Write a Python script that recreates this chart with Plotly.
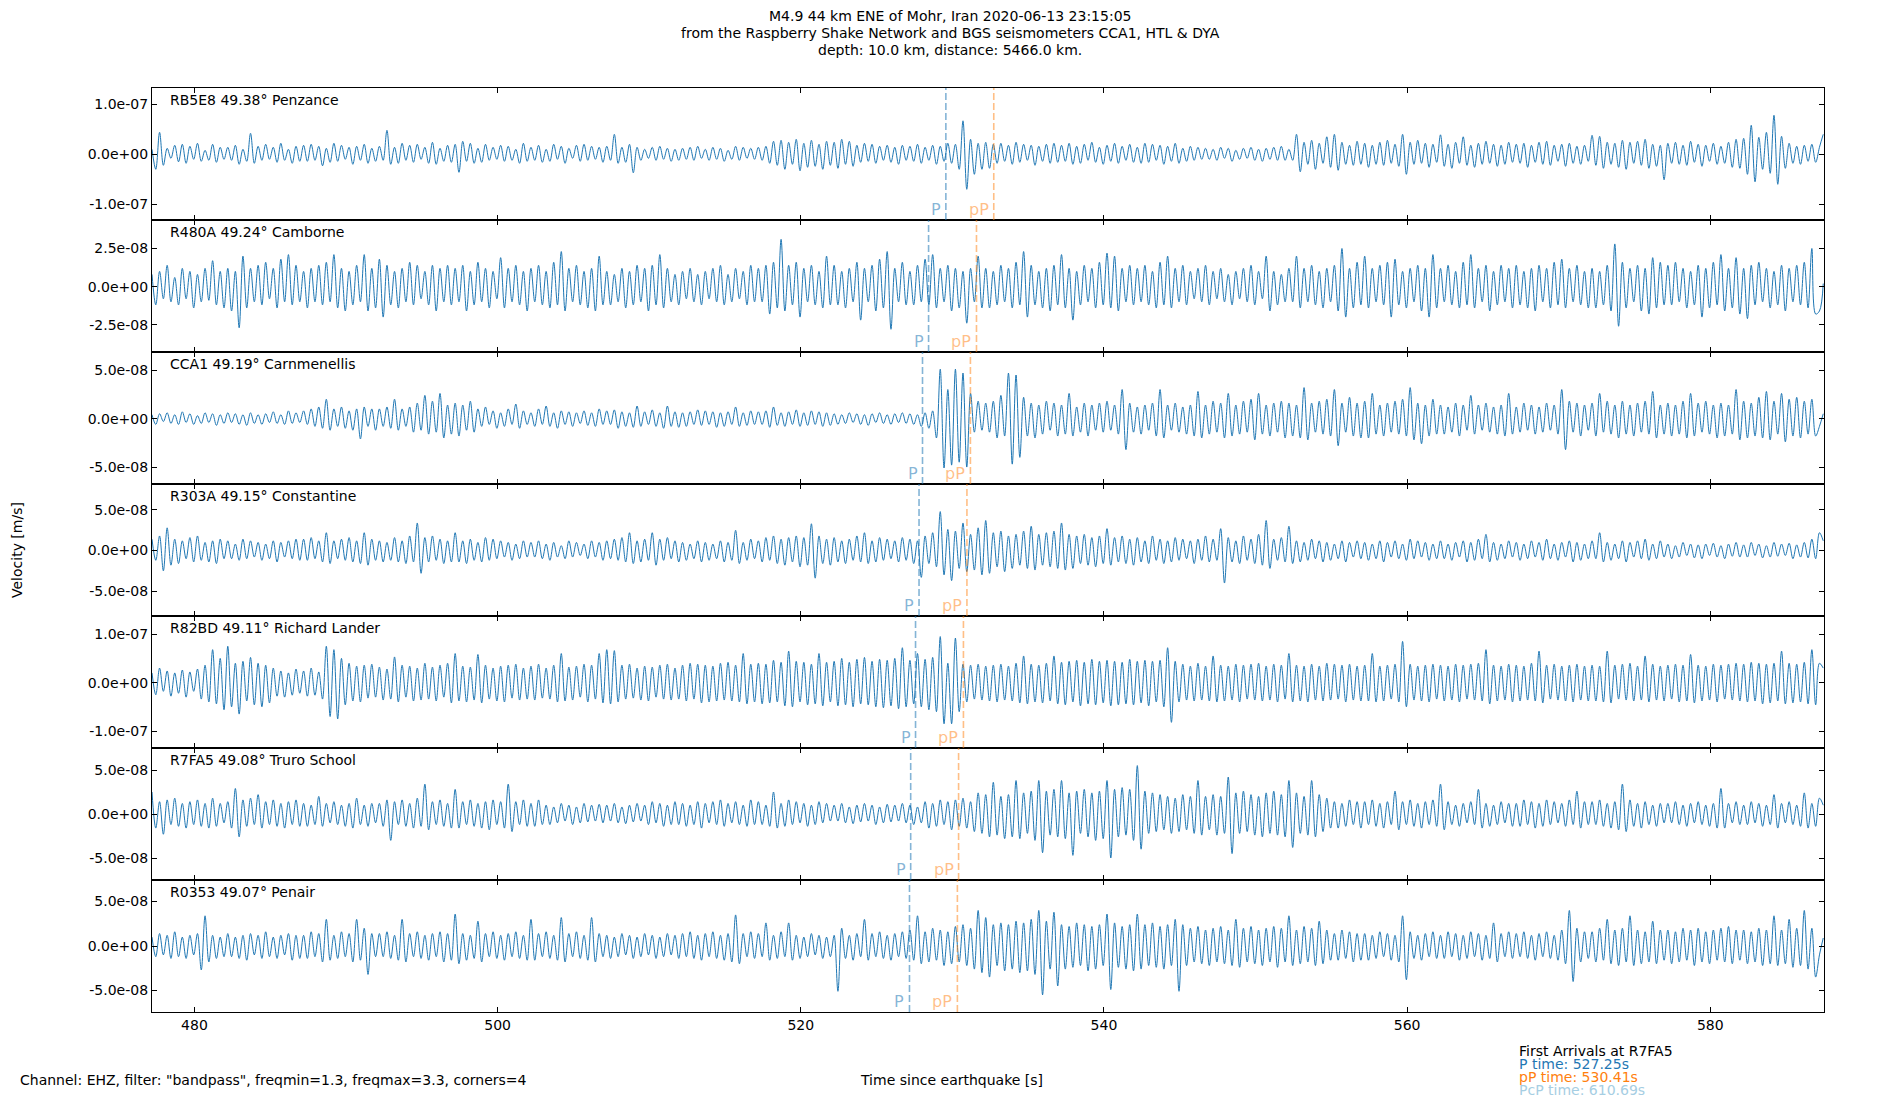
import plotly.graph_objects as go
from plotly.subplots import make_subplots

# ---- event / station info ----
title_lines = [
    "M4.9 44 km ENE of Mohr, Iran 2020-06-13 23:15:05",
    "from the Raspberry Shake Network and BGS seismometers CCA1, HTL & DYA",
    "depth: 10.0 km, distance: 5466.0 km.",
]
stations = ["RB5E8", "R480A", "CCA1", "R303A", "R82BD", "R7FA5", "R0353"]
distances = [49.38, 49.24, 49.19, 49.15, 49.11, 49.08, 49.07]
places = ["Penzance", "Camborne", "Carnmenellis", "Constantine",
          "Richard Lander", "Truro School", "Penair"]

# arrival times (s after origin) per station
p_times = [529.57, 528.43, 528.03, 527.80, 527.57, 527.25, 527.17]
pp_times = [532.73, 531.59, 531.19, 530.96, 530.73, 530.41, 530.33]

t_start = 477.2
dt = 0.25

# trace amplitudes in nm/s (1e-9 m/s)
rb5e8 = [
    10, -30, 44, -22, 12, -8, 18, -15, 20, -18, 16, -10, 22, -14, 8, -12, 20, -16, 14, -10,
    14, -12, 18, -20, 10, -14, 42, -18, 16, -12, 20, -10, 14, -16, 22, -12, 10, -18, 16, -14,
    18, -14, 20, -12, 16, -23, 12, -16, 22, -14, 18, -10, 14, -20, 16, -12, 20, -18, 12, -14,
    16, -12, 48, -20, 14, -18, 22, -12, 18, -16, 20, -10, 14, -18, 24, -20, 12, -14, 18, -16,
    20, -36, 26, -14, 22, -18, 12, -16, 20, -12, 14, -10, 18, -14, 16, -12, 10, -18, 22, -14,
    14, -12, 18, -16, 10, -14, 20, -10, 16, -18, 12, -8, 18, -14, 20, -12, 16, -10, 14, -16,
    16, -12, 40, -18, 14, -16, 20, -37, 14, -12, 10, -8, 14, -12, 16, -10, 12, -14, 10, -12,
    12, -10, 14, -12, 16, -8, 10, -12, 14, -10, 12, -14, 8, -10, 16, -12, 14, -8, 12, -10,
    14, -12, 16, -18, 26, -22, 28, -30, 24, -20, 30, -33, 22, -26, 28, -24, 20, -30, 26, -22,
    24, -28, 30, -20, 26, -24, 18, -16, 22, -14, 20, -18, 16, -12, 18, -16, 14, -20, 18, -12,
    16, -14, 20, -18, 14, -12, 18, -20, 16, -14, 22, -18, 20, -30, 67, -70, 30, -40, 22, -30,
    24, -28, 20, -18, 22, -14, 18, -20, 24, -16, 20, -12, 18, -22, 16, -14, 20, -18, 22, -16,
    18, -14, 22, -20, 16, -18, 20, -12, 24, -16, 14, -20, 18, -14, 22, -18, 16, -12, 20, -16,
    14, -18, 22, -16, 20, -12, 18, -20, 16, -14, 22, -18, 12, -14, 16, -12, 14, -10, 12, -10,
    10, -12, 14, -8, 12, -14, 8, -10, 12, -8, 14, -12, 10, -14, 12, -10, 14, -12, 16, -12,
    10, -12, 40, -35, 24, -20, 28, -30, 22, -18, 35, -26, 40, -32, 24, -20, 18, -22, 26, -20,
    22, -26, 18, -20, 24, -22, 28, -18, 20, -24, 40, -40, 24, -20, 28, -18, 22, -26, 20, -16,
    39, -24, 20, -28, 24, -18, 35, -22, 18, -26, 22, -20, 26, -18, 20, -24, 18, -20, 24, -16,
    20, -18, 22, -26, 18, -16, 24, -20, 26, -22, 18, -14, 20, -24, 22, -18, 16, -20, 18, -14,
    38, -22, 36, -28, 24, -20, 22, -26, 28, -30, 24, -18, 26, -22, 30, -28, 20, -24, 18, -51,
    22, -18, 24, -20, 18, -22, 26, -16, 20, -24, 18, -14, 22, -20, 16, -18, 24, -26, 30, -28,
    32, -40, 58, -55, 34, -30, 44, -38, 78, -60, 36, -28, 22, -18, 16, -20, 18, -14, 20, -16,
    14, 40,
]
r480a = [
    8, -12, 10, -8, 14, -10, 6, -12, 12, -8, 10, -14, 8, -10, 12, -9, 17, -12, 10, -14,
    12, -16, 10, -27, 20, -14, 12, -10, 14, -12, 16, -8, 12, -14, 18, -10, 21, -12, 14, -10,
    10, -14, 12, -10, 14, -12, 16, -10, 21, -14, 12, -16, 10, -12, 14, -10, 21, -16, 12, -14,
    18, -20, 14, -12, 10, -14, 12, -10, 16, -12, 14, -8, 10, -12, 14, -16, 12, -10, 14, -12,
    12, -10, 14, -16, 10, -12, 16, -10, 12, -14, 10, -8, 19, -14, 12, -10, 14, -12, 10, -16,
    12, -10, 14, -12, 10, -14, 16, -12, 23, -16, 12, -10, 14, -12, 10, -14, 12, -16, 20, -12,
    10, -12, 8, -10, 12, -14, 10, -12, 14, -10, 12, -16, 14, -12, 21, -14, 12, -10, 8, -12,
    10, -8, 12, -10, 8, -12, 10, -8, 12, -10, 14, -12, 8, -10, 12, -8, 10, -12, 14, -10,
    12, -10, 14, -18, 16, -14, 31, -16, 14, -12, 16, -20, 12, -10, 14, -12, 10, -14, 20, -12,
    14, -12, 10, -14, 12, -10, 16, -22, 12, -10, 14, -16, 18, -14, 23, -28, 12, -10, 16, -12,
    10, -12, 14, -10, 18, -12, 21, -14, 12, -10, 14, -16, 12, -14, 10, -24, 12, -10, 20, -14,
    12, -14, 10, -12, 14, -10, 12, -14, 16, -12, 23, -20, 14, -12, 10, -14, 12, -16, 14, -12,
    21, -14, 12, -22, 10, -12, 14, -10, 12, -14, 16, -12, 22, -14, 20, -16, 12, -10, 14, -12,
    12, -10, 14, -12, 10, -14, 16, -12, 20, -14, 12, -10, 14, -12, 10, -8, 12, -10, 14, -12,
    10, -8, 12, -10, 8, -12, 10, -8, 12, -10, 14, -12, 10, -8, 20, -16, 10, -12, 8, -10,
    12, -10, 20, -14, 12, -10, 14, -12, 10, -14, 12, -10, 14, -16, 25, -20, 12, -14, 16, -12,
    20, -14, 12, -10, 14, -12, 16, -20, 18, -12, 10, -14, 12, -10, 14, -16, 12, -20, 21, -14,
    12, -10, 14, -12, 10, -14, 16, -12, 21, -14, 12, -10, 14, -16, 10, -12, 14, -10, 12, -14,
    14, -12, 10, -14, 12, -16, 14, -10, 12, -14, 16, -12, 18, -14, 12, -10, 14, -12, 10, -14,
    12, -14, 10, -12, 14, -16, 28, -26, 16, -14, 12, -10, 14, -16, 12, -18, 19, -14, 16, -12,
    14, -12, 16, -10, 12, -14, 10, -12, 14, -20, 12, -14, 16, -12, 21, -16, 12, -14, 19, -18,
    12, -21, 14, -12, 16, -10, 12, -14, 10, -12, 14, -16, 12, -10, 14, -12, 16, -14, 25, -18,
    -16, 2,
]
cca1 = [
    4, -6, 5, -3, 6, -5, 4, -6, 7, -4, 5, -6, 3, -5, 6, -4, 5, -7, 4, -5,
    6, -4, 5, -6, 4, -7, 6, -5, 4, -6, 5, -4, 7, -5, 4, -6, 8, -5, 6, -4,
    8, -6, 10, -8, 12, -10, 20, -12, 10, -8, 12, -10, 8, -12, 10, -21, 12, -8, 10, -12,
    10, -8, 12, -10, 20, -12, 10, -8, 12, -14, 16, -12, 24, -16, 18, -14, 26, -20, 14, -16,
    16, -18, 14, -12, 18, -14, 10, -8, 12, -6, 8, -10, 6, -8, 10, -6, 15, -10, 8, -6,
    6, -8, 10, -6, 13, -8, 6, -10, 8, -6, 7, -8, 6, -5, 8, -7, 6, -8, 10, -6,
    8, -6, 9, -10, 7, -8, 6, -9, 13, -8, 7, -6, 9, -8, 6, -10, 13, -8, 7, -9,
    6, -8, 7, -6, 9, -7, 8, -6, 7, -9, 6, -8, 7, -6, 12, -8, 6, -7, 8, -6,
    7, -6, 8, -9, 12, -7, 6, -8, 7, -6, 9, -8, 6, -7, 8, -6, 7, -8, 6, -7,
    5, -6, 4, -5, 6, -4, 5, -6, 4, -7, 5, -4, 6, -5, 4, -6, 5, -4, 6, -5,
    5, -6, 4, -8, 6, -10, 8, -20, 51, -51, 30, -48, 51, -45, 47, -50, 26, -14, 18, -12,
    16, -14, 18, -20, 24, -18, 47, -47, 45, -40, 22, -18, 16, -20, 14, -16, 18, -12, 16, -18,
    14, -16, 26, -18, 12, -14, 16, -18, 14, -12, 16, -14, 18, -12, 14, -16, 30, -32, 16, -14,
    12, -16, 14, -12, 16, -18, 30, -20, 14, -12, 16, -14, 12, -16, 14, -18, 28, -20, 14, -16,
    18, -14, 16, -20, 26, -18, 14, -16, 18, -14, 20, -22, 26, -16, 14, -18, 16, -14, 18, -20,
    16, -18, 14, -20, 32, -22, 16, -14, 18, -16, 20, -18, 30, -28, 16, -14, 22, -18, 16, -20,
    18, -20, 26, -16, 14, -18, 16, -14, 18, -16, 20, -18, 32, -22, 16, -26, 14, -18, 20, -16,
    14, -16, 12, -14, 16, -18, 14, -12, 24, -16, 14, -12, 16, -14, 12, -16, 14, -18, 26, -16,
    12, -14, 16, -12, 14, -16, 12, -14, 16, -12, 14, -16, 30, -32, 18, -14, 16, -18, 14, -12,
    16, -18, 26, -14, 18, -16, 14, -20, 18, -16, 14, -18, 16, -14, 18, -16, 28, -20, 14, -16,
    16, -18, 14, -16, 18, -20, 26, -18, 16, -14, 18, -16, 14, -20, 16, -18, 14, -16, 30, -22,
    18, -20, 16, -18, 22, -20, 28, -22, 18, -16, 26, -24, 20, -18, 22, -20, 18, -16, 20, -18,
    -8, 5,
]
r303a = [
    14, -12, 18, -25, 28, -18, 14, -16, 12, -10, 16, -14, 18, -12, 10, -14, 12, -16, 14, -10,
    12, -10, 8, -12, 14, -10, 12, -8, 10, -12, 8, -10, 12, -14, 10, -8, 12, -10, 14, -12,
    14, -12, 16, -10, 12, -14, 22, -16, 12, -10, 14, -12, 16, -14, 12, -16, 22, -18, 14, -12,
    12, -14, 10, -12, 16, -14, 12, -16, 18, -14, 34, -28, 16, -14, 18, -12, 14, -16, 12, -14,
    22, -14, 12, -16, 14, -12, 10, -14, 16, -12, 14, -10, 12, -8, 10, -12, 8, -10, 12, -8,
    10, -8, 12, -10, 8, -12, 10, -8, 6, -10, 12, -8, 10, -6, 8, -10, 12, -8, 10, -12,
    12, -10, 14, -12, 16, -14, 22, -16, 12, -14, 14, -12, 22, -18, 14, -12, 16, -10, 12, -14,
    10, -12, 8, -10, 12, -14, 10, -12, 8, -10, 12, -14, 10, -12, 25, -16, 10, -12, 14, -10,
    12, -14, 16, -12, 18, -16, 14, -18, 16, -14, 18, -20, 16, -18, 33, -34, 18, -16, 14, -18,
    16, -14, 12, -16, 14, -12, 18, -14, 22, -16, 12, -14, 16, -12, 14, -10, 12, -14, 16, -12,
    14, -16, 12, -33, 18, -16, 22, -20, 48, -30, 26, -37, 24, -22, 34, -26, 20, -24, 28, -30,
    37, -28, 22, -20, 24, -26, 18, -22, 20, -18, 24, -22, 30, -24, 20, -18, 22, -20, 24, -22,
    34, -24, 20, -22, 18, -16, 20, -18, 16, -20, 18, -16, 27, -18, 16, -14, 18, -16, 14, -18,
    16, -14, 12, -16, 18, -12, 14, -16, 12, -14, 16, -12, 14, -10, 12, -16, 14, -12, 18, -14,
    14, -12, 27, -40, 16, -14, 12, -16, 18, -12, 14, -16, 20, -18, 37, -22, 14, -12, 16, -14,
    30, -16, 12, -14, 10, -12, 14, -10, 12, -14, 10, -12, 8, -10, 12, -14, 10, -8, 12, -10,
    10, -12, 8, -10, 12, -14, 10, -8, 12, -10, 8, -12, 14, -10, 12, -8, 10, -12, 8, -10,
    12, -10, 8, -12, 10, -8, 12, -14, 10, -12, 14, -10, 20, -14, 10, -12, 8, -10, 12, -8,
    10, -12, 8, -10, 12, -8, 10, -12, 14, -10, 8, -12, 10, -8, 12, -14, 10, -12, 8, -10,
    12, -10, 22, -14, 10, -12, 8, -10, 12, -14, 10, -8, 12, -10, 14, -12, 8, -10, 12, -8,
    8, -10, 6, -8, 10, -6, 8, -9, 7, -10, 8, -6, 9, -8, 6, -10, 8, -7, 10, -8,
    7, -8, 10, -6, 8, -9, 6, -8, 10, -7, 8, -6, 9, -10, 7, -8, 10, -9, 14, -10,
    22, 12,
]
r82bd = [
    20, -25, 30, -18, 24, -28, 20, -22, 26, -30, 22, -18, 28, -34, 36, -40, 68, -44, 50, -56,
    75, -50, 40, -65, 44, -38, 52, -46, 40, -50, 36, -42, 30, -28, 24, -30, 20, -26, 28, -22,
    24, -28, 30, -26, 22, -34, 75, -70, 68, -75, 50, -46, 40, -38, 34, -40, 36, -32, 38, -30,
    32, -36, 28, -34, 53, -40, 36, -30, 34, -38, 30, -36, 40, -34, 32, -38, 36, -30, 40, -42,
    60, -38, 34, -40, 32, -36, 58, -42, 36, -34, 30, -38, 34, -40, 36, -32, 38, -36, 30, -34,
    34, -36, 38, -32, 30, -34, 36, -40, 60, -38, 32, -36, 34, -30, 38, -40, 36, -34, 60, -42,
    68, -44, 66, -40, 36, -34, 38, -32, 30, -36, 34, -38, 32, -30, 36, -34, 38, -36, 30, -34,
    36, -38, 40, -34, 38, -42, 36, -40, 34, -38, 40, -36, 42, -38, 36, -40, 60, -44, 38, -40,
    40, -44, 38, -42, 46, -40, 42, -48, 65, -50, 44, -40, 42, -46, 38, -44, 60, -48, 42, -40,
    44, -48, 50, -46, 42, -50, 48, -44, 52, -46, 44, -50, 48, -52, 46, -48, 50, -54, 72, -50,
    46, -44, 60, -50, 48, -56, 52, -60, 95, -85, 40, -85, 92, -60, 38, -40, 36, -34, 38, -36,
    34, -38, 36, -40, 38, -36, 34, -38, 40, -42, 55, -44, 38, -40, 36, -42, 40, -38, 55, -44,
    42, -46, 44, -40, 46, -48, 42, -44, 48, -46, 44, -42, 46, -48, 44, -46, 42, -44, 48, -46,
    44, -42, 46, -48, 44, -40, 46, -50, 72, -82, 44, -40, 38, -36, 34, -38, 40, -36, 34, -38,
    55, -40, 36, -38, 34, -36, 38, -40, 36, -34, 38, -36, 40, -38, 34, -36, 38, -40, 36, -34,
    60, -40, 36, -38, 34, -40, 38, -36, 34, -38, 40, -36, 38, -34, 36, -40, 38, -36, 34, -38,
    36, -38, 60, -40, 34, -38, 36, -34, 38, -40, 85, -50, 38, -36, 34, -38, 36, -40, 38, -34,
    36, -38, 34, -36, 38, -40, 36, -34, 38, -36, 40, -38, 68, -44, 36, -38, 34, -36, 38, -40,
    36, -38, 34, -36, 40, -38, 65, -42, 36, -34, 38, -36, 34, -38, 36, -40, 38, -36, 34, -38,
    36, -38, 34, -40, 65, -42, 36, -34, 38, -36, 40, -38, 34, -36, 55, -40, 38, -36, 34, -38,
    36, -34, 38, -40, 36, -38, 58, -42, 36, -38, 34, -36, 38, -40, 36, -34, 38, -36, 40, -38,
    38, -40, 42, -38, 40, -44, 38, -42, 40, -38, 65, -44, 40, -42, 38, -40, 42, -44, 68, -46,
    40, 30,
]
r7fa5 = [
    25, -16, 14, -23, 16, -12, 18, -14, 12, -16, 14, -12, 16, -14, 12, -16, 18, -14, 12, -10,
    14, -16, 29, -26, 16, -14, 18, -12, 22, -16, 14, -12, 16, -14, 12, -16, 14, -12, 16, -14,
    12, -14, 10, -12, 20, -14, 12, -10, 14, -12, 10, -14, 12, -16, 18, -12, 10, -14, 12, -10,
    12, -14, 16, -30, 14, -12, 16, -14, 12, -16, 18, -14, 34, -18, 14, -12, 16, -14, 12, -16,
    28, -16, 14, -12, 16, -14, 12, -16, 14, -18, 16, -12, 14, -16, 34, -20, 14, -12, 16, -14,
    12, -14, 16, -12, 10, -12, 8, -10, 12, -8, 10, -12, 8, -10, 12, -9, 10, -8, 11, -10,
    10, -8, 12, -10, 8, -11, 10, -9, 12, -8, 10, -12, 14, -10, 12, -14, 10, -12, 14, -12,
    12, -14, 10, -12, 14, -16, 12, -10, 14, -12, 16, -14, 12, -10, 14, -12, 10, -14, 16, -12,
    14, -12, 10, -14, 25, -16, 12, -14, 16, -12, 14, -10, 12, -14, 10, -12, 14, -10, 12, -8,
    10, -8, 12, -10, 8, -11, 10, -9, 12, -8, 10, -12, 8, -10, 11, -9, 10, -8, 12, -10,
    10, -12, 8, -10, 14, -16, 12, -14, 16, -12, 14, -18, 16, -14, 18, -16, 14, -20, 24, -22,
    22, -26, 36, -24, 20, -28, 22, -26, 38, -28, 24, -22, 26, -30, 38, -44, 26, -24, 28, -26,
    38, -28, 24, -47, 26, -22, 28, -26, 24, -30, 26, -28, 38, -50, 28, -26, 30, -24, 28, -30,
    55, -40, 26, -22, 24, -20, 22, -18, 20, -22, 18, -20, 22, -18, 20, -22, 38, -24, 20, -18,
    22, -24, 20, -22, 42, -45, 24, -22, 26, -20, 22, -24, 20, -26, 24, -22, 26, -24, 22, -26,
    38, -38, 24, -22, 20, -24, 38, -26, 22, -20, 18, -16, 14, -16, 12, -14, 16, -12, 14, -16,
    14, -12, 16, -14, 12, -16, 14, -12, 26, -18, 14, -12, 16, -14, 12, -16, 14, -12, 16, -14,
    34, -18, 14, -12, 10, -14, 12, -10, 14, -12, 28, -16, 12, -14, 10, -12, 14, -10, 12, -14,
    12, -14, 16, -12, 14, -16, 12, -14, 16, -12, 14, -10, 12, -14, 16, -12, 26, -16, 14, -12,
    14, -12, 16, -14, 12, -16, 14, -18, 34, -20, 16, -14, 12, -16, 14, -12, 10, -14, 12, -10,
    12, -10, 14, -12, 10, -14, 12, -10, 14, -12, 10, -14, 12, -16, 29, -16, 12, -10, 14, -12,
    10, -12, 14, -10, 12, -14, 10, -12, 22, -16, 12, -10, 14, -12, 10, -14, 24, -16, 12, -14,
    18, 10,
]
r0353 = [
    10, -12, 14, -10, 12, -14, 16, -12, 10, -14, 12, -10, 14, -27, 34, -18, 12, -14, 10, -12,
    14, -12, 10, -14, 12, -16, 14, -10, 12, -14, 16, -12, 10, -14, 12, -10, 14, -16, 12, -14,
    12, -14, 16, -12, 14, -18, 30, -16, 12, -14, 16, -12, 14, -18, 30, -16, 20, -32, 14, -12,
    14, -12, 16, -14, 12, -16, 30, -18, 14, -12, 16, -14, 12, -16, 14, -12, 16, -18, 14, -16,
    36, -20, 14, -16, 12, -14, 28, -18, 14, -12, 16, -14, 12, -16, 14, -12, 16, -14, 12, -16,
    30, -16, 14, -12, 16, -14, 12, -16, 32, -18, 14, -12, 16, -14, 12, -16, 32, -18, 14, -12,
    12, -14, 10, -12, 14, -10, 12, -14, 10, -12, 14, -10, 12, -14, 10, -12, 14, -10, 12, -14,
    14, -12, 16, -14, 12, -16, 14, -12, 16, -14, 12, -16, 14, -18, 35, -20, 14, -12, 16, -14,
    14, -12, 26, -16, 12, -14, 16, -12, 26, -16, 12, -14, 10, -12, 14, -10, 12, -14, 10, -12,
    12, -51, 20, -14, 12, -16, 14, -12, 30, -16, 14, -12, 16, -14, 12, -16, 14, -12, 16, -14,
    18, -16, 34, -20, 16, -18, 20, -16, 18, -22, 16, -20, 22, -18, 24, -22, 20, -26, 40, -30,
    32, -35, 24, -22, 26, -28, 24, -26, 28, -30, 26, -28, 30, -32, 40, -55, 28, -26, 38, -45,
    24, -26, 22, -24, 26, -22, 24, -28, 22, -26, 24, -22, 36, -49, 26, -24, 22, -26, 24, -28,
    36, -26, 24, -22, 26, -24, 22, -26, 24, -22, 30, -51, 24, -22, 20, -18, 22, -20, 18, -22,
    20, -18, 22, -20, 18, -22, 30, -24, 20, -18, 22, -20, 18, -22, 20, -18, 22, -24, 20, -18,
    34, -22, 18, -20, 22, -18, 20, -22, 28, -20, 18, -16, 14, -16, 18, -14, 16, -18, 14, -16,
    14, -16, 12, -14, 16, -12, 14, -16, 12, -18, 34, -38, 16, -14, 12, -16, 14, -12, 16, -14,
    12, -14, 16, -12, 14, -16, 12, -14, 16, -12, 14, -16, 12, -14, 26, -18, 14, -12, 16, -14,
    14, -12, 16, -14, 12, -16, 14, -12, 16, -14, 12, -16, 18, -20, 40, -40, 20, -18, 16, -14,
    16, -18, 20, -16, 30, -20, 18, -22, 20, -18, 34, -22, 18, -20, 16, -18, 28, -20, 18, -16,
    18, -20, 16, -18, 20, -16, 18, -22, 20, -18, 16, -20, 18, -16, 20, -18, 22, -20, 18, -16,
    18, -20, 16, -18, 20, -22, 18, -20, 34, -22, 18, -20, 30, -24, 20, -22, 40, -26, 20, -35,
    -10, 9,
]
traces = [rb5e8, r480a, cca1, r303a, r82bd, r7fa5, r0353]

# y limits and tick labels per panel (m/s)
y_lims = [
    [-1.314e-7, 1.326e-7],
    [-4.29e-8, 4.37e-8],
    [-6.75e-8, 6.875e-8],
    [-8.06e-8, 8.2e-8],
    [-1.35e-7, 1.375e-7],
    [-7.5e-8, 7.5e-8],
    [-7.43e-8, 7.43e-8],
]
y_ticks = [
    [-1e-7, 0, 1e-7],
    [-2.5e-8, 0, 2.5e-8],
    [-5e-8, 0, 5e-8],
    [-5e-8, 0, 5e-8],
    [-1e-7, 0, 1e-7],
    [-5e-8, 0, 5e-8],
    [-5e-8, 0, 5e-8],
]
y_ticktext = [
    ["-1.0e-07", "0.0e+00", "1.0e-07"],
    ["-2.5e-08", "0.0e+00", "2.5e-08"],
    ["-5.0e-08", "0.0e+00", "5.0e-08"],
    ["-5.0e-08", "0.0e+00", "5.0e-08"],
    ["-1.0e-07", "0.0e+00", "1.0e-07"],
    ["-5.0e-08", "0.0e+00", "5.0e-08"],
    ["-5.0e-08", "0.0e+00", "5.0e-08"],
]
x_ticks = [480, 500, 520, 540, 560, 580]
x_range = [477.2, 587.5]

arrival_lines = [
    ("First Arrivals at R7FA5", "black"),
    ("P time: 527.25s", "#1f77b4"),
    ("pP time: 530.41s", "#ff7f0e"),
    ("PcP time: 610.69s", "#a6cee3"),
]

FONT = "DejaVu Sans"
TRACE_COL = "#1f77b4"
P_COL = "rgba(31,119,180,0.55)"
PP_COL = "rgba(255,127,14,0.5)"

# page geometry (pixels). The html body adds an 8px margin, so the
# figure is laid out 8px up/left of where things should land on screen.
OFF = 8
W, H = 1900, 1100
PLOT_L, PLOT_T, PLOT_R, PLOT_B = 152, 88, 1824, 1012
ML, MT = PLOT_L - OFF, PLOT_T - OFF
PW, PH = PLOT_R - PLOT_L, PLOT_B - PLOT_T
MR, MB = W - ML - PW, H - MT - PH


def px(x):
    return (x - PLOT_L) / PW


def py(y):
    return (PLOT_B - y) / PH


fig = make_subplots(rows=7, cols=1, shared_xaxes=True, vertical_spacing=0)

for i, vals in enumerate(traces):
    row = i + 1
    ax = "" if row == 1 else str(row)
    times = [t_start + k * dt for k in range(len(vals))]
    fig.add_trace(go.Scatter(x=times, y=[v * 1e-9 for v in vals], mode="lines",
                             line=dict(color=TRACE_COL, width=1, shape="spline"),
                             showlegend=False, hoverinfo="skip"), row=row, col=1)

    fig.add_vline(x=p_times[i], line=dict(color=P_COL, width=1.6, dash="7px,3px"),
                  row=row, col=1)
    fig.add_vline(x=pp_times[i], line=dict(color=PP_COL, width=1.6, dash="7px,3px"),
                  row=row, col=1)

    for t, lab, col in [(p_times[i], "P", P_COL), (pp_times[i], "pP", PP_COL)]:
        fig.add_annotation(x=t, y=0, xref="x" + ax, yref="y" + ax + " domain",
                           text=lab, showarrow=False, xanchor="right", yanchor="bottom",
                           xshift=-3, yshift=-1, font=dict(family=FONT, size=16, color=col))

    fig.add_annotation(x=0.0095, y=1, xref="x" + ax + " domain", yref="y" + ax + " domain",
                       text=f"{stations[i]} {distances[i]:.2f}° {places[i]}",
                       showarrow=False, xanchor="left", yanchor="top", yshift=-2,
                       font=dict(family=FONT, size=14, color="black"))

    fig.update_yaxes(range=y_lims[i], tickvals=y_ticks[i], ticktext=y_ticktext[i],
                     row=row, col=1)

fig.update_xaxes(range=x_range, tickvals=x_ticks, ticks="inside", ticklen=5,
                 tickwidth=1, tickcolor="black", showline=True, linecolor="black",
                 linewidth=1.2, mirror="ticks", showgrid=False, zeroline=False,
                 tickfont=dict(family=FONT, size=14, color="black"))
fig.update_yaxes(ticks="inside", ticklen=5, tickwidth=1, tickcolor="black",
                 showline=True, linecolor="black", linewidth=1.2, mirror="ticks",
                 showgrid=False, zeroline=False,
                 tickfont=dict(family=FONT, size=14, color="black"))

annotations = []
for k, line in enumerate(title_lines):
    annotations.append(dict(xref="paper", yref="paper", x=px(950), y=py(16 + 17 * k),
                            xanchor="center", yanchor="middle", text=line,
                            showarrow=False, font=dict(family=FONT, size=14, color="black")))

annotations.append(dict(xref="paper", yref="paper", x=px(17), y=py(550), textangle=-90,
                        xanchor="center", yanchor="middle", text="Velocity [m/s]",
                        showarrow=False, font=dict(family=FONT, size=14, color="black")))
annotations.append(dict(xref="paper", yref="paper", x=px(951), y=py(1080),
                        xanchor="center", yanchor="middle", text="Time since earthquake [s]",
                        showarrow=False, font=dict(family=FONT, size=14, color="black")))
annotations.append(dict(xref="paper", yref="paper", x=px(18), y=py(1080),
                        xanchor="left", yanchor="middle",
                        text='Channel: EHZ, filter: "bandpass", freqmin=1.3, freqmax=3.3, corners=4',
                        showarrow=False, font=dict(family=FONT, size=14, color="black")))
for k, (txt, col) in enumerate(arrival_lines):
    annotations.append(dict(xref="paper", yref="paper", x=px(1517), y=py(1050.5 + 13 * k),
                            xanchor="left", yanchor="middle", text=txt, showarrow=False,
                            font=dict(family=FONT, size=14, color=col)))

for a in annotations:
    fig.add_annotation(**a)

fig.update_layout(
    width=W, height=H, autosize=False,
    margin=dict(l=ML, r=MR, t=MT, b=MB, autoexpand=False),
    plot_bgcolor="white", paper_bgcolor="white",
    showlegend=False,
    font=dict(family=FONT, size=14, color="black"),
)

fig.write_html("out.html")
